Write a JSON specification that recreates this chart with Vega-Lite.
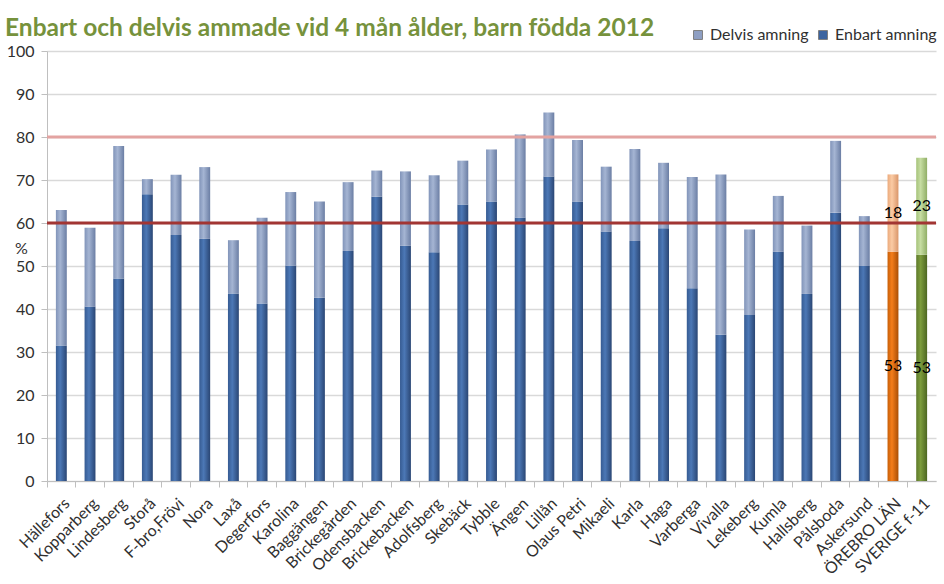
{
  "$schema": "https://vega.github.io/schema/vega-lite/v6.json",
  "autosize": "none",
  "width": 889,
  "height": 430,
  "padding": {"left": 47, "top": 51, "right": 8, "bottom": 103},
  "background": "white",
  "config": {"font": "Lato", "view": {"stroke": null}},
  "title": {
    "text": "Enbart och delvis ammade vid 4 mån ålder, barn födda 2012",
    "anchor": "start",
    "frame": "group",
    "dx": -42,
    "dy": 30,
    "offset": 16,
    "fontSize": 24.5,
    "font": "Lato",
    "fontWeight": "bold",
    "color": "#76923C"
  },
  "data": {
    "values": [
      {"omrade": "Hällefors", "typ": "Enbart amning", "andel": 31.5},
      {"omrade": "Hällefors", "typ": "Delvis amning", "andel": 31.5},
      {"omrade": "Kopparberg", "typ": "Enbart amning", "andel": 40.5},
      {"omrade": "Kopparberg", "typ": "Delvis amning", "andel": 18.4},
      {"omrade": "Lindesberg", "typ": "Enbart amning", "andel": 47.1},
      {"omrade": "Lindesberg", "typ": "Delvis amning", "andel": 30.8},
      {"omrade": "Storå", "typ": "Enbart amning", "andel": 66.7},
      {"omrade": "Storå", "typ": "Delvis amning", "andel": 3.5},
      {"omrade": "F-bro,Frövi", "typ": "Enbart amning", "andel": 57.2},
      {"omrade": "F-bro,Frövi", "typ": "Delvis amning", "andel": 14.0},
      {"omrade": "Nora", "typ": "Enbart amning", "andel": 56.3},
      {"omrade": "Nora", "typ": "Delvis amning", "andel": 16.7},
      {"omrade": "Laxå", "typ": "Enbart amning", "andel": 43.6},
      {"omrade": "Laxå", "typ": "Delvis amning", "andel": 12.4},
      {"omrade": "Degerfors", "typ": "Enbart amning", "andel": 41.3},
      {"omrade": "Degerfors", "typ": "Delvis amning", "andel": 19.9},
      {"omrade": "Karolina", "typ": "Enbart amning", "andel": 50.1},
      {"omrade": "Karolina", "typ": "Delvis amning", "andel": 17.1},
      {"omrade": "Baggängen", "typ": "Enbart amning", "andel": 42.6},
      {"omrade": "Baggängen", "typ": "Delvis amning", "andel": 22.4},
      {"omrade": "Brickegården", "typ": "Enbart amning", "andel": 53.5},
      {"omrade": "Brickegården", "typ": "Delvis amning", "andel": 16.0},
      {"omrade": "Odensbacken", "typ": "Enbart amning", "andel": 66.1},
      {"omrade": "Odensbacken", "typ": "Delvis amning", "andel": 6.1},
      {"omrade": "Brickebacken", "typ": "Enbart amning", "andel": 54.7},
      {"omrade": "Brickebacken", "typ": "Delvis amning", "andel": 17.3},
      {"omrade": "Adolfsberg", "typ": "Enbart amning", "andel": 53.2},
      {"omrade": "Adolfsberg", "typ": "Delvis amning", "andel": 17.9},
      {"omrade": "Skebäck", "typ": "Enbart amning", "andel": 64.3},
      {"omrade": "Skebäck", "typ": "Delvis amning", "andel": 10.2},
      {"omrade": "Tybble", "typ": "Enbart amning", "andel": 65.0},
      {"omrade": "Tybble", "typ": "Delvis amning", "andel": 12.1},
      {"omrade": "Ängen", "typ": "Enbart amning", "andel": 61.2},
      {"omrade": "Ängen", "typ": "Delvis amning", "andel": 19.4},
      {"omrade": "Lillån", "typ": "Enbart amning", "andel": 70.8},
      {"omrade": "Lillån", "typ": "Delvis amning", "andel": 14.9},
      {"omrade": "Olaus Petri", "typ": "Enbart amning", "andel": 65.0},
      {"omrade": "Olaus Petri", "typ": "Delvis amning", "andel": 14.3},
      {"omrade": "Mikaeli", "typ": "Enbart amning", "andel": 58.0},
      {"omrade": "Mikaeli", "typ": "Delvis amning", "andel": 15.1},
      {"omrade": "Karla", "typ": "Enbart amning", "andel": 55.8},
      {"omrade": "Karla", "typ": "Delvis amning", "andel": 21.4},
      {"omrade": "Haga", "typ": "Enbart amning", "andel": 58.8},
      {"omrade": "Haga", "typ": "Delvis amning", "andel": 15.2},
      {"omrade": "Varberga", "typ": "Enbart amning", "andel": 44.8},
      {"omrade": "Varberga", "typ": "Delvis amning", "andel": 25.9},
      {"omrade": "Vivalla", "typ": "Enbart amning", "andel": 34.0},
      {"omrade": "Vivalla", "typ": "Delvis amning", "andel": 37.3},
      {"omrade": "Lekeberg", "typ": "Enbart amning", "andel": 38.6},
      {"omrade": "Lekeberg", "typ": "Delvis amning", "andel": 19.9},
      {"omrade": "Kumla", "typ": "Enbart amning", "andel": 53.3},
      {"omrade": "Kumla", "typ": "Delvis amning", "andel": 13.0},
      {"omrade": "Hallsberg", "typ": "Enbart amning", "andel": 43.5},
      {"omrade": "Hallsberg", "typ": "Delvis amning", "andel": 15.9},
      {"omrade": "Pålsboda", "typ": "Enbart amning", "andel": 62.4},
      {"omrade": "Pålsboda", "typ": "Delvis amning", "andel": 16.7},
      {"omrade": "Askersund", "typ": "Enbart amning", "andel": 50.0},
      {"omrade": "Askersund", "typ": "Delvis amning", "andel": 11.6},
      {"omrade": "ÖREBRO LÄN", "typ": "Enbart amning", "andel": 53.3},
      {"omrade": "ÖREBRO LÄN", "typ": "Delvis amning", "andel": 18.0},
      {"omrade": "SVERIGE f-11", "typ": "Enbart amning", "andel": 52.6},
      {"omrade": "SVERIGE f-11", "typ": "Delvis amning", "andel": 22.6}
    ]
  },
  "layer": [
    {
      "transform": [
        {"stack": "andel", "groupby": ["omrade"], "sort": [{"field": "typ", "order": "descending"}], "as": ["y0", "y1"]}
      ],
      "mark": {"type": "bar", "width": {"band": 0.38}},
      "encoding": {
        "x": {
          "field": "omrade", "type": "nominal", "sort": null,
          "scale": {"paddingInner": 0, "paddingOuter": 0},
          "axis": {
            "title": null, "labelAngle": -45, "labelFontSize": 16, "labelColor": "#303030",
            "labelPadding": 8, "bandPosition": 0, "tickSize": 6, "tickColor": "#BFBFBF",
            "domainColor": "#BFBFBF", "labelOverlap": false
          }
        },
        "y": {
          "field": "y0", "type": "quantitative",
          "scale": {"domain": [0, 100], "nice": false},
          "axis": {
            "title": "%", "titleAngle": 0, "titleFontSize": 16, "titleFontWeight": "normal",
            "titleColor": "#303030", "titleX": -26, "titleY": 197, "titleAlign": "center",
            "titleBaseline": "middle",
            "values": [0, 10, 20, 30, 40, 50, 60, 70, 80, 90, 100],
            "labelFontSize": 16, "labelColor": "#303030", "labelPadding": 7,
            "tickSize": 6, "tickColor": "#BFBFBF", "domainColor": "#BFBFBF",
            "gridColor": "#D9D9D9", "gridWidth": 1.5
          }
        },
        "y2": {"field": "y1"},
        "color": {
          "condition": [
            {"test": "datum.omrade === 'ÖREBRO LÄN' && datum.typ === 'Enbart amning'",
             "value": {"gradient": "linear", "x1": 0, "x2": 1, "y1": 0, "y2": 0,
                       "stops": [{"offset": 0, "color": "#C85F08"}, {"offset": 0.4, "color": "#F47D1A"}, {"offset": 1, "color": "#A94E05"}]}},
            {"test": "datum.omrade === 'ÖREBRO LÄN' && datum.typ === 'Delvis amning'",
             "value": {"gradient": "linear", "x1": 0, "x2": 1, "y1": 0, "y2": 0,
                       "stops": [{"offset": 0, "color": "#EBAA7C"}, {"offset": 0.4, "color": "#FBCBA4"}, {"offset": 1, "color": "#D9966A"}]}},
            {"test": "datum.omrade === 'SVERIGE f-11' && datum.typ === 'Enbart amning'",
             "value": {"gradient": "linear", "x1": 0, "x2": 1, "y1": 0, "y2": 0,
                       "stops": [{"offset": 0, "color": "#5E7A2A"}, {"offset": 0.4, "color": "#7C9C3C"}, {"offset": 1, "color": "#4D6622"}]}},
            {"test": "datum.omrade === 'SVERIGE f-11' && datum.typ === 'Delvis amning'",
             "value": {"gradient": "linear", "x1": 0, "x2": 1, "y1": 0, "y2": 0,
                       "stops": [{"offset": 0, "color": "#A6C37A"}, {"offset": 0.4, "color": "#C6DDA2"}, {"offset": 1, "color": "#90AE66"}]}},
            {"test": "datum.typ === 'Enbart amning'",
             "value": {"gradient": "linear", "x1": 0, "x2": 1, "y1": 0, "y2": 0,
                       "stops": [{"offset": 0, "color": "#365B92"}, {"offset": 0.4, "color": "#4C78B6"}, {"offset": 1, "color": "#2A4674"}]}},
            {"test": "datum.typ === 'Delvis amning'",
             "value": {"gradient": "linear", "x1": 0, "x2": 1, "y1": 0, "y2": 0,
                       "stops": [{"offset": 0, "color": "#8194B9"}, {"offset": 0.4, "color": "#A5B5D3"}, {"offset": 1, "color": "#6B7EA4"}]}}
          ],
          "field": "typ", "type": "nominal",
          "scale": {"domain": ["Delvis amning", "Enbart amning"], "range": ["#8E9FC3", "#3C64A0"]},
          "legend": {
            "title": null, "orient": "none", "direction": "horizontal",
            "legendX": 643, "legendY": -24, "symbolType": "square", "symbolSize": 80,
            "symbolStrokeColor": "#7F7F7F", "symbolStrokeWidth": 1,
            "labelFontSize": 16, "labelColor": "#303030", "columnPadding": 6, "labelOffset": 4
          }
        }
      }
    },
    {
      "data": {"values": [{"grans": 80}, {"grans": 60}]},
      "mark": {"type": "rule", "strokeWidth": 3},
      "encoding": {
        "y": {"field": "grans", "type": "quantitative"},
        "color": {
          "condition": {"test": "datum.grans === 80", "value": "#E3A3A1"},
          "value": "#A23533"
        }
      }
    },
    {
      "transform": [
        {"stack": "andel", "groupby": ["omrade"], "sort": [{"field": "typ", "order": "descending"}], "as": ["y0", "y1"]},
        {"filter": {"field": "omrade", "oneOf": ["ÖREBRO LÄN", "SVERIGE f-11"]}},
        {"fold": ["y0", "y1"], "as": ["kant", "niva"]},
        {"aggregate": [{"op": "mean", "field": "niva", "as": "mitt"}], "groupby": ["omrade", "typ", "andel"]}
      ],
      "mark": {"type": "text", "fontSize": 16, "color": "#000000"},
      "encoding": {
        "x": {"field": "omrade", "type": "nominal", "sort": null},
        "y": {"field": "mitt", "type": "quantitative"},
        "text": {"field": "andel", "type": "quantitative", "format": ".0f"}
      }
    }
  ]
}
